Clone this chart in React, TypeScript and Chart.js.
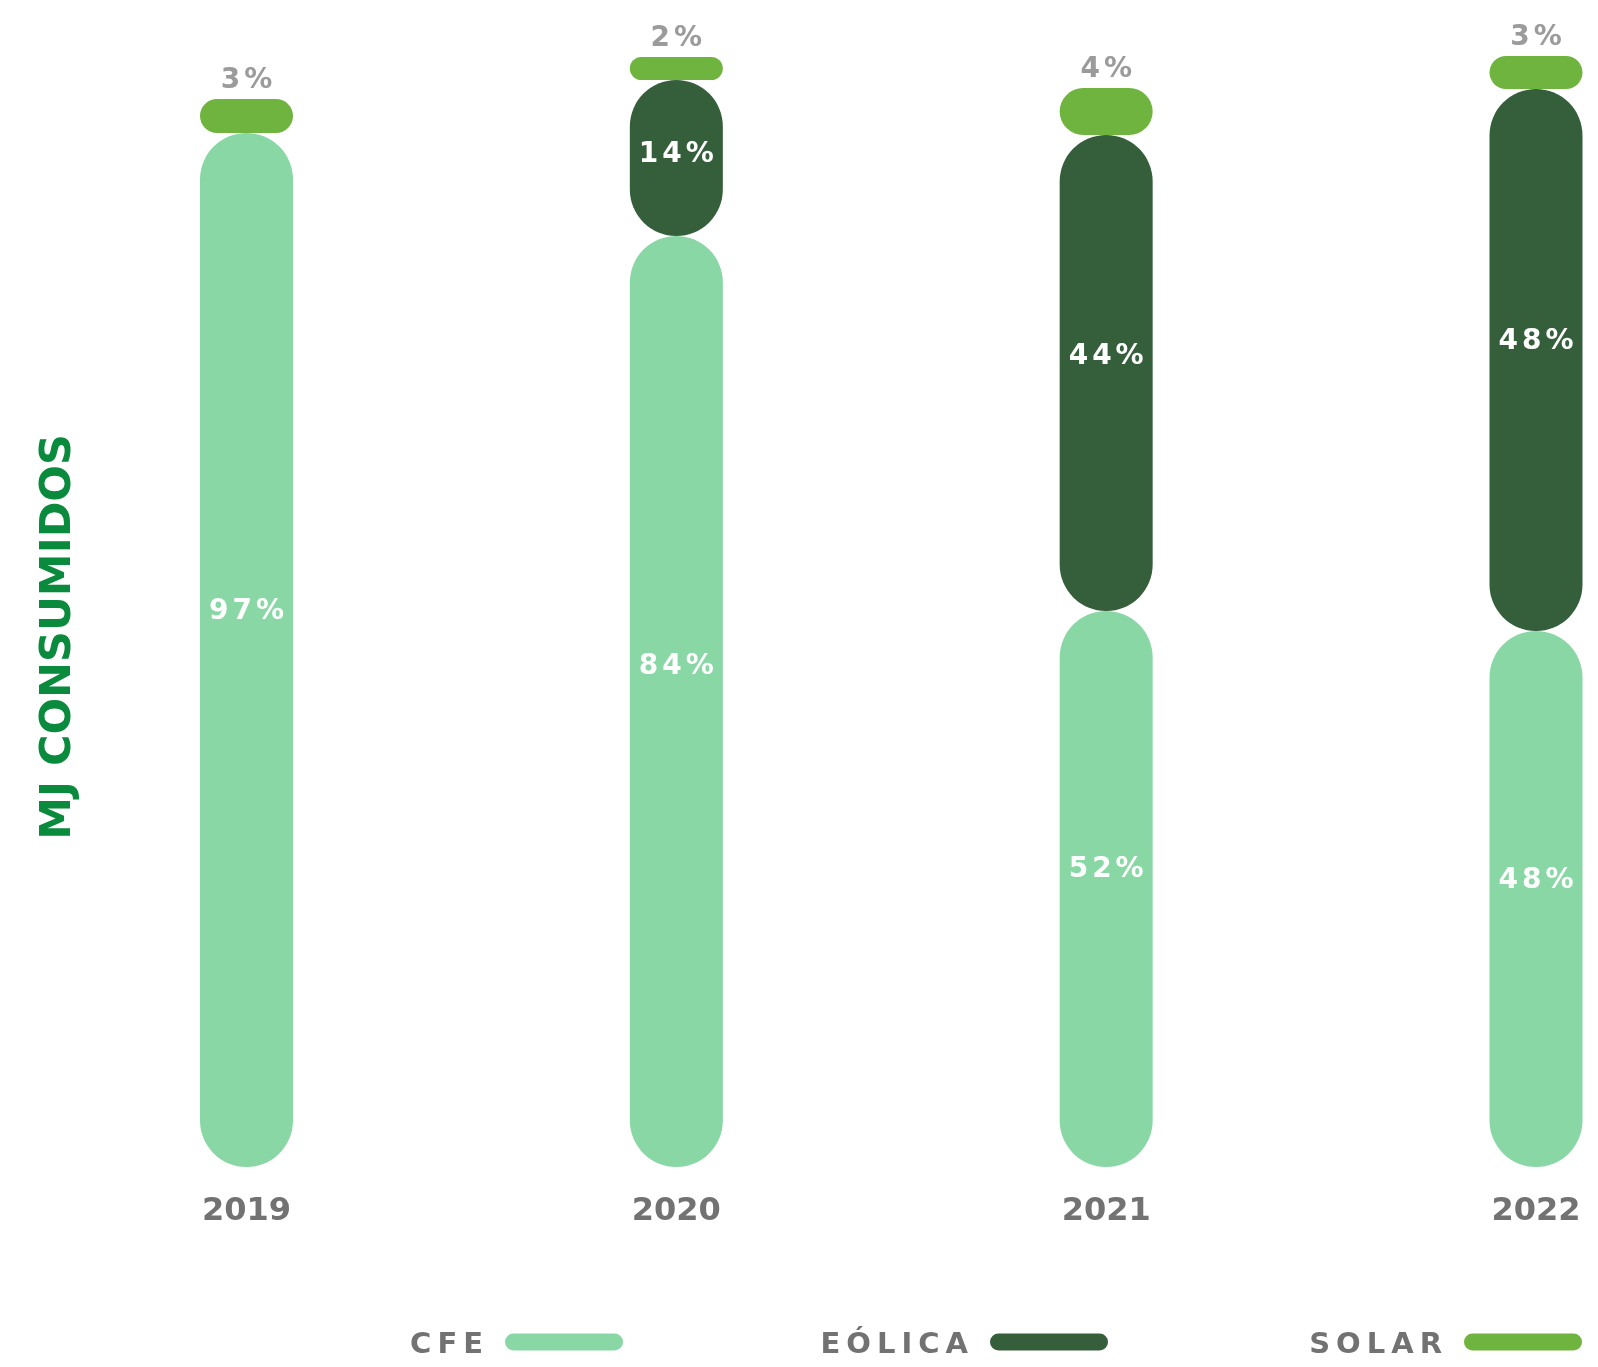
import React, { useEffect, useRef } from "react";
import { Chart, registerables } from "chart.js";

Chart.register(...registerables);

// ---------- data ----------
const years = ["2019", "2020", "2021", "2022"];
const cfeValues = [1034, 931, 556, 536];
const eolicaValues: (number | null)[] = [null, 156, 476, 542];
const solarValues = [34, 23, 47, 33];
const cfeLabels = ["97%", "84%", "52%", "48%"];
const eolicaLabels = ["", "14%", "44%", "48%"];
const solarLabels = ["3%", "2%", "4%", "3%"];
const seriesNames = ["CFE", "EÓLICA", "SOLAR"];
const axisTitle = "MJ CONSUMIDOS";

// ---------- styles ----------
const COLORS = ["#88d7a4", "#355e3b", "#6fb43f"];
const GRAY_TOP = "#9b9b9b";
const GRAY_TEXT = "#727272";
const TITLE_GREEN = "#0a8a3d";
const FONT = "'DejaVu Sans', 'Liberation Sans', sans-serif";

const W = 1598;
const H = 1367;

const segmentLabels = [cfeLabels, eolicaLabels, solarLabels];

// build floating [start, end] segments so every segment keeps its own rounded ends
function buildSegments(series: (number | null)[][]) {
  const totals = years.map(() => 0);
  return series.map((vals) =>
    vals.map((v, i) => {
      if (v == null) return null;
      const start = totals[i];
      totals[i] += v;
      return [start, totals[i]];
    })
  );
}

const labelPlugin = {
  id: "segLabels",
  afterDatasetsDraw(chart: any) {
    const ctx: CanvasRenderingContext2D = chart.ctx;
    ctx.save();
    const size = 28;
    const spacing = 4;
    ctx.font = `bold ${size}px ${FONT}`;
    (ctx as any).letterSpacing = `${spacing}px`;
    ctx.textAlign = "center";
    ctx.textBaseline = "alphabetic";
    const capHalf = (size * 0.729) / 2;
    chart.data.datasets.forEach((_ds: any, di: number) => {
      const meta = chart.getDatasetMeta(di);
      const labels = segmentLabels[di];
      meta.data.forEach((el: any, i: number) => {
        const text = labels[i];
        if (!text) return;
        const { x, y, base } = el.getProps(["x", "y", "base"], true);
        if (x == null || isNaN(y)) return;
        const top = Math.min(y, base);
        const bottom = Math.max(y, base);
        let cy: number;
        if (di === 2) {
          ctx.fillStyle = GRAY_TOP;
          cy = top - 21;
        } else {
          ctx.fillStyle = "#ffffff";
          cy = top + 0.46 * (bottom - top);
        }
        ctx.fillText(text, x + spacing / 2, cy + capHalf);
      });
    });
    ctx.restore();
  },
};

const LEGEND_PILL_LEFT = [505, 990, 1464];
const LEGEND_Y = 1342;
const PILL_W = 118;
const PILL_H = 17;

const decorPlugin = {
  id: "decor",
  afterDraw(chart: any) {
    const ctx: CanvasRenderingContext2D = chart.ctx;
    ctx.save();
    // y axis title
    ctx.font = `bold 43px ${FONT}`;
    ctx.fillStyle = TITLE_GREEN;
    ctx.textAlign = "center";
    ctx.textBaseline = "alphabetic";
    ctx.translate(70, 637);
    ctx.rotate(-Math.PI / 2);
    ctx.fillText(axisTitle, 0, 0);
    ctx.restore();

    // legend
    ctx.save();
    ctx.font = `bold 29px ${FONT}`;
    (ctx as any).letterSpacing = "6px";
    ctx.textAlign = "right";
    ctx.textBaseline = "alphabetic";
    chart.data.datasets.forEach((ds: any, i: number) => {
      const px = LEGEND_PILL_LEFT[i];
      ctx.fillStyle = GRAY_TEXT;
      ctx.fillText(ds.label, px - 22 + 6, LEGEND_Y + (29 * 0.729) / 2);
      ctx.fillStyle = ds.backgroundColor;
      ctx.beginPath();
      (ctx as any).roundRect(px, LEGEND_Y - PILL_H / 2, PILL_W, PILL_H, PILL_H / 2);
      ctx.fill();
    });
    ctx.restore();
  },
};

export default function App() {
  const ref = useRef<HTMLCanvasElement | null>(null);

  useEffect(() => {
    document.body.style.margin = "0";
    const canvas = ref.current;
    if (!canvas) return;
    const segments = buildSegments([cfeValues, eolicaValues, solarValues]);
    const chart = new Chart(canvas, {
      type: "bar",
      data: {
        labels: years,
        datasets: seriesNames.map((name, i) => ({
          label: name,
          data: segments[i] as any,
          backgroundColor: COLORS[i],
          borderWidth: 0,
          borderRadius: 60,
          borderSkipped: false,
          barThickness: 93,
          inflateAmount: 0,
          grouped: false,
          clip: false,
        })),
      },
      options: {
        responsive: false,
        animation: false,
        devicePixelRatio: 1,
        layout: { padding: { left: 246.5, right: 62, top: 17, bottom: 120 } },
        plugins: {
          legend: { display: false },
          tooltip: { enabled: false },
        },
        scales: {
          x: {
            offset: false,
            grid: { display: false, drawTicks: false },
            border: { display: false },
            ticks: {
              padding: 25,
              color: GRAY_TEXT,
              font: { family: FONT, size: 32, weight: "bold" },
              maxRotation: 0,
              autoSkip: false,
            },
            afterFit: (scale: any) => {
              scale.height = 80;
              scale.paddingLeft = 0;
              scale.paddingRight = 0;
            },
          },
          y: {
            display: false,
            min: 0,
            max: 1150,
          },
        },
      },
      plugins: [labelPlugin, decorPlugin],
    } as any);
    return () => chart.destroy();
  }, []);

  return (
    <div style={{ width: W, height: H, position: "relative", background: "#ffffff" }}>
      <canvas ref={ref} width={W} height={H} style={{ display: "block", width: W, height: H }} />
    </div>
  );
}
